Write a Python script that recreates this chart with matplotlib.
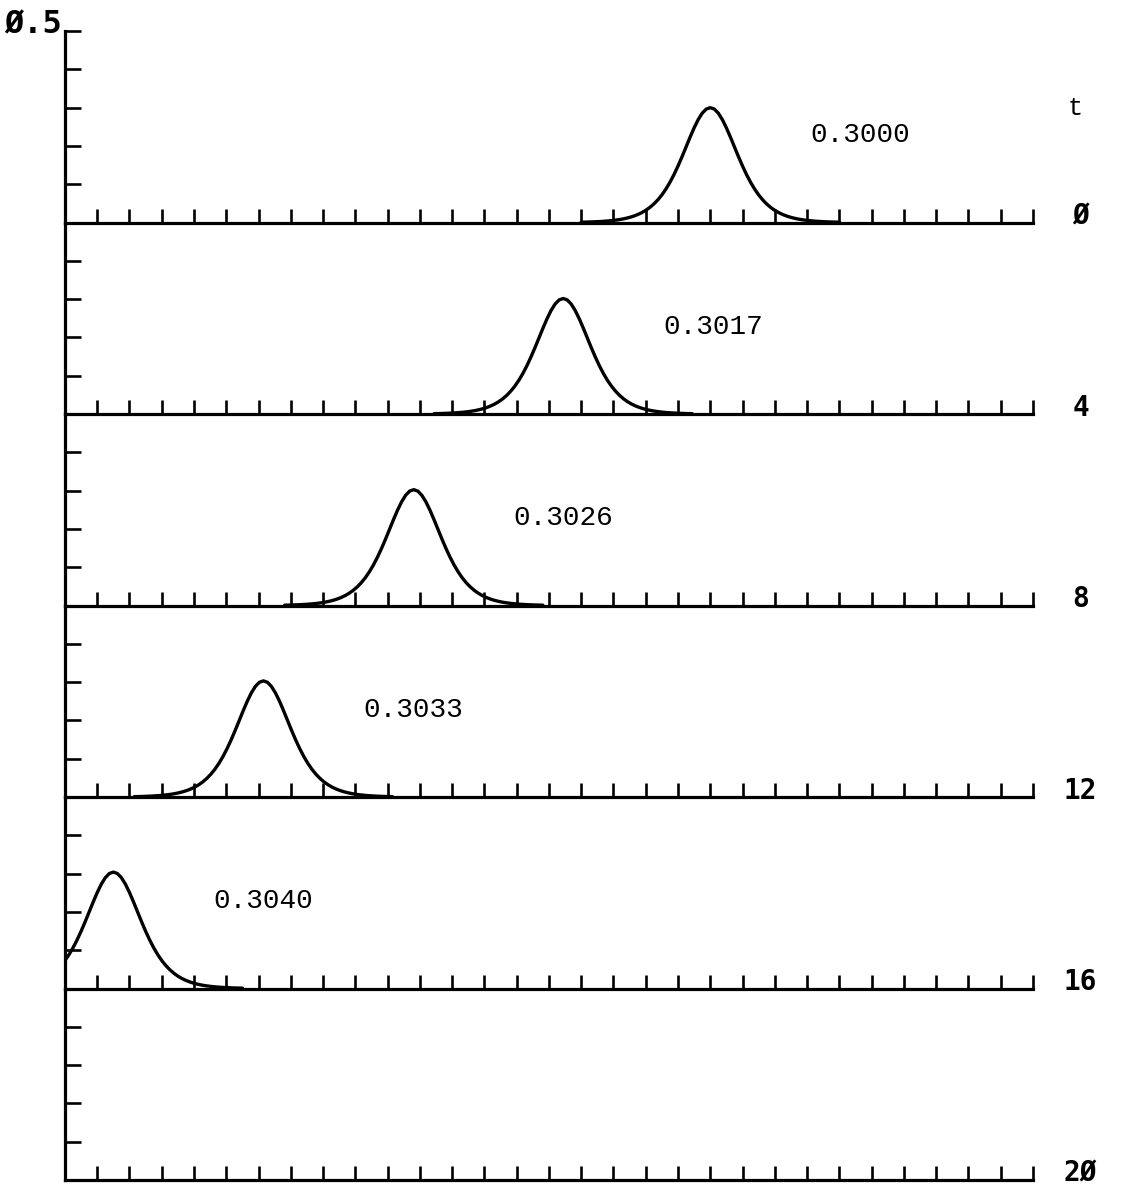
import matplotlib
matplotlib.use("Agg")
import matplotlib.pyplot as plt
import numpy as np

# one panel per output time, newest at the bottom
time_labels = ["Ø", "4", "8", "12", "16", "2Ø"]

# pulse peaks (position along the grid, height) for the panels that show one
peak_x = [20.0, 15.44, 10.81, 6.15, 1.50]
peak_u = [0.3000, 0.3017, 0.3026, 0.3033, 0.3040]
amp_labels = ["0.3000", "0.3017", "0.3026", "0.3033", "0.3040"]

# right half of the pulse profile relative to its peak height,
# sampled every 0.125 from the peak out to 4 grid units
half_shape = [1.0000, 0.9877, 0.9518, 0.8957, 0.8243, 0.7434, 0.6581, 0.5730,
              0.4919, 0.4171, 0.3500, 0.2912, 0.2405, 0.1974, 0.1613, 0.1312,
              0.1064, 0.0860, 0.0694, 0.0559, 0.0450, 0.0362, 0.0290, 0.0233,
              0.0187, 0.0150, 0.0120, 0.0096, 0.0077, 0.0062, 0.0049, 0.0039,
              0.0032]
# the pulse is symmetric about its peak
shape = np.array(half_shape[:0:-1] + half_shape)
offsets = np.linspace(-4, 4, len(shape))

x_max = 30
u_max = 0.5

fig = plt.figure(figsize=(11.22, 11.90), dpi=100)

left, width = 0.0579, 0.8627
bottom0, total_h = 0.0084, 0.9655
panel_h = total_h / len(time_labels)

mono = "DejaVu Sans Mono"
label_font = "Liberation Mono"

for k, tl in enumerate(time_labels):
    ax = fig.add_axes([left, bottom0 + (len(time_labels) - 1 - k) * panel_h, width, panel_h])
    ax.set_xlim(0, x_max)
    ax.set_ylim(0, u_max)
    ax.patch.set_alpha(0)
    for s in ["top", "right"]:
        ax.spines[s].set_visible(False)
    for s in ["left", "bottom"]:
        ax.spines[s].set_linewidth(2.3)
    ax.set_xticks(range(1, x_max + 1))
    ax.set_yticks([0.1, 0.2, 0.3, 0.4, 0.5])
    ax.tick_params(axis="x", direction="in", length=10, width=1.9,
                   labelbottom=False)
    ax.tick_params(axis="y", direction="in", length=11.5, width=1.9,
                   labelleft=False)

    if k < len(peak_x):
        x = peak_x[k] + offsets
        u = peak_u[k] * shape
        keep = x >= 0
        ax.plot(x[keep], u[keep], color="black", lw=2.4,
                solid_joinstyle="round", solid_capstyle="round")
        ax.text(peak_x[k] + 3.1, 0.228, amp_labels[k], family=label_font,
                fontsize=20, ha="left", va="center")

    ax.text(31.48, 0.016, tl, family=mono, fontweight="bold", fontsize=20,
            ha="center", va="center", clip_on=False)

    if k == 0:
        ax.text(-0.09, 0.495, "Ø.5", family=mono, fontweight="bold",
                fontsize=23, ha="right", va="baseline", clip_on=False)
        ax.text(31.3, 0.3, "t", family=label_font, fontsize=18,
                ha="center", va="center", clip_on=False)

fig.savefig("out.png", dpi=100)
